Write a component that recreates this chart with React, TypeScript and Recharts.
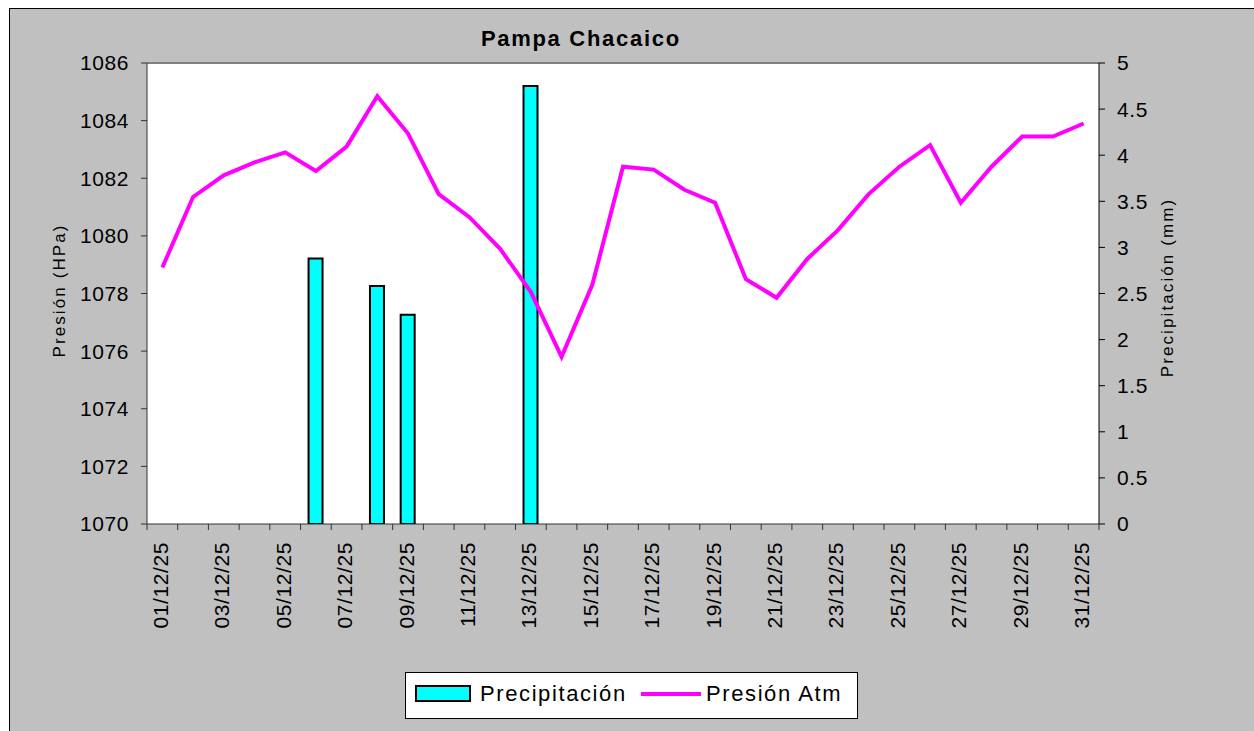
import React from 'react'
import { ComposedChart, Bar, Line, XAxis, YAxis, CartesianGrid, ReferenceLine } from 'recharts'

// daily values, December 2025
const days = [
  '01/12/25', '02/12/25', '03/12/25', '04/12/25', '05/12/25', '06/12/25', '07/12/25', '08/12/25',
  '09/12/25', '10/12/25', '11/12/25', '12/12/25', '13/12/25', '14/12/25', '15/12/25', '16/12/25',
  '17/12/25', '18/12/25', '19/12/25', '20/12/25', '21/12/25', '22/12/25', '23/12/25', '24/12/25',
  '25/12/25', '26/12/25', '27/12/25', '28/12/25', '29/12/25', '30/12/25', '31/12/25',
]

// hPa
const pressure = [
  1078.9, 1081.35, 1082.1, 1082.55, 1082.9, 1082.25, 1083.1, 1084.85,
  1083.55, 1081.45, 1080.65, 1079.55, 1078.05, 1075.8, 1078.3, 1082.4,
  1082.3, 1081.6, 1081.15, 1078.5, 1077.85, 1079.2, 1080.2, 1081.45,
  1082.4, 1083.15, 1081.15, 1082.4, 1083.45, 1083.45, 1083.9,
]

// mm
const precip = [
  0, 0, 0, 0, 0, 2.88, 0, 2.58,
  2.27, 0, 0, 0, 4.75, 0, 0, 0,
  0, 0, 0, 0, 0, 0, 0, 0,
  0, 0, 0, 0, 0, 0, 0,
]

const pressureTicks = [1070, 1072, 1074, 1076, 1078, 1080, 1082, 1084, 1086]
const precipTicks = [0, 0.5, 1, 1.5, 2, 2.5, 3, 3.5, 4, 4.5, 5]

const rows = days.map((day, i) => ({ day, pressure: pressure[i], precip: precip[i] }))

const FONT = '"Liberation Sans", Arial, sans-serif'
const W = 1244
const H = 722
const LEFT_W = 70
const RIGHT_W = 80
const X_H = 120
const M = { top: 54, right: 75, bottom: 87, left: 67 }
const BAND = (W - M.left - M.right - LEFT_W - RIGHT_W) / days.length
const AXIS = '#333'

function DayTick(props: any) {
  const { x, y, index, payload } = props
  const left = x - BAND / 2
  const ty = y + 18
  return (
    <g>
      <line x1={left} x2={left} y1={y} y2={y + 6} stroke={AXIS} />
      {index === days.length - 1 && (
        <line x1={x + BAND / 2} x2={x + BAND / 2} y1={y} y2={y + 6} stroke={AXIS} />
      )}
      {index % 2 === 0 && (
        <text
          x={x - 2}
          y={ty}
          transform={`rotate(-90, ${x - 2}, ${ty})`}
          textAnchor="end"
          dominantBaseline="central"
          fontSize={21}
          letterSpacing={0.6}
          fill="#000"
        >
          {payload.value}
        </text>
      )}
    </g>
  )
}

function axisTitle(text: string, dx: number, dy: number) {
  return ({ viewBox }: any) => {
    const cx = viewBox.x + dx
    const cy = viewBox.y + viewBox.height / 2 + dy
    return (
      <text
        x={cx}
        y={cy}
        transform={`rotate(-90, ${cx}, ${cy})`}
        textAnchor="middle"
        dominantBaseline="central"
        fontSize={17}
        letterSpacing={2.1}
        fill="#000"
      >
        {text}
      </text>
    )
  }
}

export default function App() {
  return (
    <div style={{ position: 'fixed', left: 0, top: 0, width: 1254, height: 731, overflow: 'hidden', background: '#fff', fontFamily: FONT }}>
      <div
        style={{
          position: 'absolute', left: 9, top: 8, width: 1245, height: 723, boxSizing: 'border-box',
          borderLeft: '1px solid #000', borderTop: '1px solid #000', background: '#C0C0C0',
        }}
      >
        <div style={{ position: 'relative', width: W, height: H }}>
          <ComposedChart width={W} height={H} data={rows} margin={M}>
            <CartesianGrid yAxisId="p" fill="#fff" stroke="none" horizontal={false} vertical={false} />
            <XAxis
              dataKey="day"
              interval={0}
              height={X_H}
              tickSize={0}
              tickMargin={0}
              tickLine={false}
              axisLine={{ stroke: AXIS }}
              tick={<DayTick />}
            />
            <YAxis
              yAxisId="p"
              orientation="left"
              domain={[1070, 1086]}
              ticks={pressureTicks}
              allowDataOverflow
              width={LEFT_W}
              tickSize={6}
              tickMargin={12}
              axisLine={{ stroke: AXIS }}
              tickLine={{ stroke: AXIS }}
              tick={{ fill: '#000', fontSize: 21, letterSpacing: 0.6 }}
              label={{ content: axisTitle('Presión (HPa)', -18, -3) }}
            />
            <YAxis
              yAxisId="r"
              orientation="right"
              domain={[0, 5]}
              ticks={precipTicks}
              allowDataOverflow
              width={RIGHT_W}
              tickSize={6}
              tickMargin={12}
              axisLine={{ stroke: '#000' }}
              tickLine={{ stroke: '#000' }}
              tick={{ fill: '#000', fontSize: 21, letterSpacing: 0.6 }}
              label={{ content: axisTitle('Precipitación (mm)', 68, -6) }}
            />
            <ReferenceLine yAxisId="p" y={1086} stroke="#808080" strokeWidth={2} />
            <Bar
              yAxisId="r"
              dataKey="precip"
              name="Precipitación"
              fill="#00FFFF"
              stroke="#000"
              strokeWidth={2}
              barSize={14}
              isAnimationActive={false}
            />
            <Line
              yAxisId="p"
              type="linear"
              dataKey="pressure"
              name="Presión Atm"
              stroke="#FF00FF"
              strokeWidth={4}
              dot={false}
              activeDot={false}
              isAnimationActive={false}
            />
          </ComposedChart>

          <div
            style={{
              position: 'absolute', left: 0, top: 19.4, width: 1141.7, textAlign: 'center',
              fontSize: 22, lineHeight: '22px', fontWeight: 'bold', letterSpacing: 1.7, color: '#000',
            }}
          >
            Pampa Chacaico
          </div>

          <div
            style={{
              position: 'absolute', left: 395, top: 663, width: 453, height: 47, boxSizing: 'border-box',
              border: '1px solid #000', background: '#fff', fontSize: 22, lineHeight: '22px', letterSpacing: 1.6,
            }}
          >
            <div style={{ position: 'absolute', left: 9, top: 12, width: 56, height: 17, boxSizing: 'border-box', border: '2px solid #000', background: '#00FFFF' }} />
            <div style={{ position: 'absolute', left: 74, top: 10.4, whiteSpace: 'nowrap' }}>Precipitación</div>
            <div style={{ position: 'absolute', left: 235, top: 19, width: 60, height: 4, background: '#FF00FF' }} />
            <div style={{ position: 'absolute', left: 300, top: 10.4, whiteSpace: 'nowrap' }}>Presión Atm</div>
          </div>
        </div>
      </div>
    </div>
  )
}
